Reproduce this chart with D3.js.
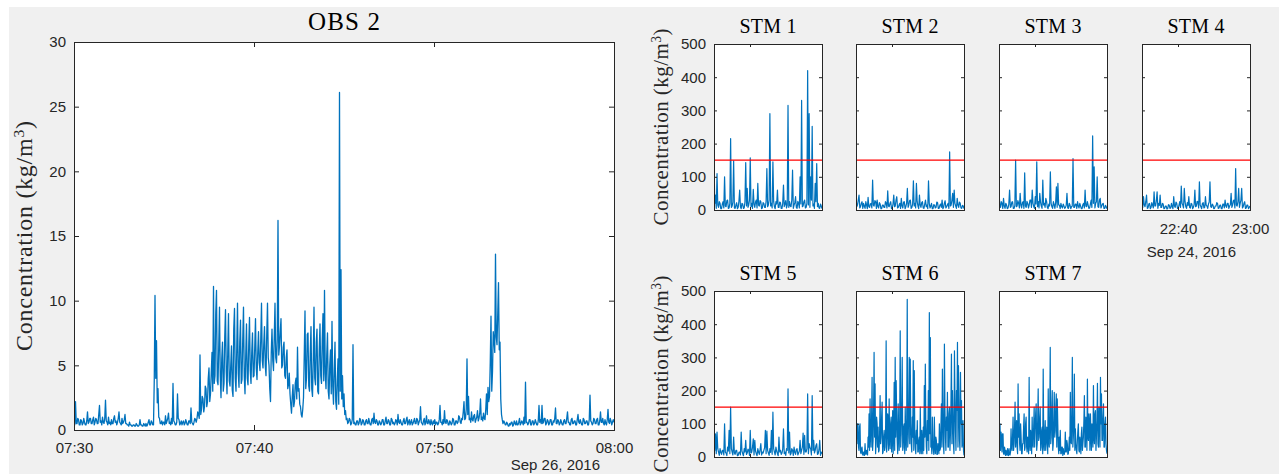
<!DOCTYPE html>
<html>
<head>
<meta charset="utf-8">
<script src="https://cdn.jsdelivr.net/npm/d3@7"></script>
<style>
  body { margin: 0; background: #fff; }
  svg { display: block; }
</style>
</head>
<body>
<script>
// ---------- data ----------
// OBS 2 concentration (kg/m^3), one reading every 2.5 s from 07:30 to 08:00 (one row per minute)
const obsConc = [
  0.6,0.4,2.2,0.5,0.5,0.9,0.8,0.4,0.4,0.8,0.7,0.4,0.5,0.9,0.6,0.4,0.4,0.7,1.4,0.5,0.6,0.9,0.9,0.5,
  0.5,0.8,1.0,0.4,0.6,0.9,0.8,0.5,0.5,1.2,1.9,0.6,0.7,0.4,1.0,0.6,0.5,0.9,2.3,0.7,0.6,0.4,1.0,0.5,
  0.6,0.4,0.8,0.5,0.5,0.9,1.1,0.6,0.7,0.4,0.6,0.9,1.4,0.6,0.5,0.4,0.9,0.5,0.6,0.8,1.2,0.5,0.5,0.4,
  0.4,0.3,0.6,0.4,0.4,0.3,0.3,0.4,0.4,0.3,0.3,0.5,0.4,0.3,0.3,0.4,0.8,0.4,0.4,0.3,0.3,0.5,0.4,0.3,
  0.5,0.3,0.4,0.6,0.8,0.4,0.4,0.7,0.6,0.4,0.4,3.8,10.4,4.0,6.9,2.1,3.2,1.0,0.9,0.5,0.5,0.7,0.4,0.6,
  0.6,0.4,1.1,0.5,0.7,0.9,1.3,0.5,0.6,0.4,0.9,0.5,3.6,0.7,0.6,0.4,0.4,0.6,2.8,0.9,0.8,0.4,0.5,0.7,
  0.4,0.6,0.7,0.4,0.5,0.8,0.6,0.4,0.4,0.7,0.7,0.5,1.7,0.6,0.5,0.4,0.6,0.9,0.8,0.6,0.9,1.4,1.2,0.9,
  5.8,1.2,1.6,2.6,2.4,1.4,1.8,3.4,3.2,1.8,2.2,4.0,4.8,2.2,2.8,4.4,6.0,3.0,11.1,3.6,4.2,9.0,10.8,3.8,
  3.5,6.5,9.5,4.2,2.5,5.5,6.8,3.0,3.6,7.2,9.3,4.5,2.8,6.0,9.0,3.8,3.4,5.0,6.5,3.1,2.6,7.8,9.4,4.0,
  3.0,6.2,9.8,4.4,3.3,6.8,8.5,3.6,3.9,7.0,9.5,4.2,2.8,5.8,8.2,4.0,3.5,6.6,8.7,4.6,3.6,6.0,7.5,4.1,
  4.2,6.4,8.6,4.8,3.9,6.0,7.6,5.2,4.6,7.0,9.8,5.4,4.8,6.6,8.0,5.0,4.2,7.4,9.8,5.6,5.0,3.2,2.2,6.0,
  7.8,5.4,4.6,7.2,9.8,5.6,5.2,7.0,16.2,5.8,6.5,7.6,8.6,4.8,5.0,6.4,6.8,4.2,4.0,5.6,6.2,3.2,3.5,4.4,
  2.8,2.0,1.3,2.6,3.5,1.8,2.2,3.6,4.0,2.4,6.4,3.0,3.2,2.0,1.8,1.2,1.0,1.6,2.5,5.8,9.2,3.2,4.0,7.4,
  7.5,3.4,3.0,6.0,8.0,3.2,2.6,5.4,9.5,4.0,3.5,6.8,7.8,3.0,2.8,6.2,8.2,4.2,3.6,7.0,9.0,3.8,10.8,4.4,
  3.2,5.8,7.5,3.0,2.4,5.0,6.2,2.8,8.4,3.4,2.0,4.6,6.8,2.2,1.6,3.8,5.5,2.0,26.1,3.0,12.4,2.4,4.2,1.8,
  2.8,1.2,1.5,0.8,0.9,0.5,0.6,0.9,0.8,0.4,0.5,0.8,6.6,0.5,0.6,0.4,0.4,0.7,0.7,0.4,0.5,0.9,0.8,0.4,
  0.5,0.8,0.7,0.4,0.4,0.7,0.8,0.5,0.5,0.9,0.6,0.4,0.4,0.8,0.9,0.5,1.3,0.6,0.5,0.8,0.7,0.4,0.4,0.7,
  0.6,0.4,0.5,0.8,0.8,0.4,0.4,0.7,1.0,0.5,0.5,0.8,0.7,0.4,0.4,0.9,0.8,0.5,0.6,0.4,0.5,0.8,0.7,0.4,
  1.2,0.6,0.5,0.8,0.6,0.4,0.4,0.7,0.9,0.5,0.5,0.8,1.0,0.4,0.6,0.8,0.4,0.6,0.8,0.4,0.5,0.7,0.9,0.5,
  0.5,0.9,0.8,0.4,0.6,0.8,1.8,0.6,0.5,0.4,0.7,0.9,0.4,0.6,1.1,0.5,0.5,0.8,0.6,0.4,0.8,0.5,0.4,0.7,
  0.5,0.8,0.4,0.6,0.6,0.4,0.5,0.8,1.9,0.6,0.6,0.4,0.8,0.5,1.5,0.6,0.5,0.8,0.7,0.4,0.4,0.7,0.6,0.4,
  0.5,0.9,0.8,0.4,0.4,0.7,0.7,0.5,0.6,1.1,1.0,0.6,0.5,0.9,0.8,1.4,2.2,0.8,0.9,1.6,5.5,1.2,2.6,0.8,
  0.9,0.6,1.4,0.8,0.7,1.1,1.2,0.6,0.8,1.0,1.5,0.7,0.9,1.3,2.4,0.8,1.0,0.7,1.3,0.9,0.8,1.6,2.8,1.2,
  3.3,2.2,2.6,5.2,8.8,3.0,4.5,7.6,7.0,6.0,13.6,7.2,6.6,9.0,11.4,6.2,6.8,2.4,1.2,0.8,0.5,0.7,0.6,0.4,
  0.4,0.6,0.5,0.3,0.3,0.5,0.4,0.6,0.6,0.3,0.4,0.7,0.5,0.4,0.7,0.4,0.4,0.6,0.9,0.4,0.5,0.7,0.6,0.4,
  1.0,0.5,3.7,0.6,0.6,0.4,0.5,0.8,0.8,0.4,0.4,0.7,0.7,0.4,0.5,0.8,0.6,0.4,0.4,0.7,1.9,0.6,0.8,0.5,
  1.9,0.5,0.6,0.9,0.9,0.4,0.5,0.8,0.7,0.4,0.5,0.8,0.8,0.4,0.4,0.7,0.6,0.9,1.7,0.5,0.5,0.8,0.7,0.4,
  0.5,0.8,0.6,0.4,0.4,0.7,0.8,0.5,0.5,0.9,1.4,0.6,0.6,0.4,0.4,0.8,0.9,0.5,0.5,0.7,0.7,0.4,0.4,0.8,
  1.2,0.6,0.5,0.8,0.6,0.4,0.4,0.9,0.8,0.5,0.5,0.7,0.7,0.4,0.4,0.8,2.7,0.7,0.6,0.4,0.5,0.9,0.8,0.5,
  0.5,0.8,0.9,0.4,0.4,0.7,1.4,0.6,0.6,0.9,0.5,0.4,0.8,0.5,0.4,0.8,1.6,0.6,0.5,0.9,0.7,0.4,0.6,0.8,
  0.6
];
const obsStart = "2016-09-26 07:30";
const obsEnd = "2016-09-26 08:00";
const obsStepSeconds = 2.5;
const obsTimeTicks = ["07:30", "07:40", "07:50", "08:00"];
const obsYTicks = [0, 5, 10, 15, 20, 25, 30];
const obsDateLabel = "Sep 26, 2016";

// STM concentrations (kg/m^3), evenly spaced readings from 22:30 to 23:00
const stm1 = [150,20,45,5,110,15,8,25,20,4,4,18,25,6,100,12,10,28,30,5,6,20,215,8,12,24,148,6,5,15,22,4,8,26,60,10,4,20,18,5,6,25,143,12,65,8,15,30,157,10,20,5,62,18,8,24,30,6,80,15,12,28,25,4,6,22,20,8,8,26,125,10,15,30,290,12,20,6,145,25,10,4,25,18,60,8,8,24,22,5,5,20,75,10,18,28,6,15,315,8,25,12,10,30,120,5,15,22,40,8,5,26,20,6,100,18,330,10,12,25,30,6,8,20,420,15,290,8,100,30,252,12,18,5,80,25,140,10,20,6,5,18,12,4];
const stm2 = [40,10,15,30,45,6,10,20,25,5,20,12,5,25,15,4,38,10,8,18,20,6,90,15,12,28,25,5,30,10,6,22,18,4,4,15,15,8,8,25,20,6,58,12,10,20,25,4,6,18,45,10,12,30,40,6,8,15,20,5,35,12,6,24,25,4,10,20,65,8,15,28,30,5,8,18,88,12,20,6,80,25,12,4,45,15,8,22,25,6,5,18,30,10,15,4,88,20,6,12,20,4,4,16,15,6,8,24,22,5,5,14,18,8,30,4,8,20,28,6,10,15,20,5,175,12,15,30,50,8,60,20,12,5,35,15,8,24,20,6,5,14,12,4];
const stm3 = [60,15,8,25,20,5,35,12,5,20,15,4,6,18,60,8,10,24,25,5,5,14,150,10,12,28,20,6,50,15,6,22,25,5,112,12,8,26,20,6,15,30,30,8,60,20,10,5,40,18,145,10,25,6,50,24,12,5,90,15,20,8,35,26,8,4,18,12,115,20,10,5,25,16,5,22,70,8,80,15,15,4,20,10,6,18,12,5,8,14,50,6,5,20,15,4,10,12,155,8,8,18,18,5,25,12,6,20,12,4,4,16,20,6,60,12,10,25,15,5,6,18,30,8,223,20,130,6,20,25,100,10,8,30,35,6,12,18,20,5,5,14,10,4];
const stm4 = [30,8,40,15,10,25,45,5,6,18,20,4,8,22,15,6,55,12,12,28,55,5,20,14,45,8,8,20,18,4,5,12,12,3,4,16,15,5,6,20,10,4,40,12,8,24,20,5,5,15,25,8,72,20,15,6,65,25,10,5,22,14,40,8,6,20,18,4,8,16,60,10,12,26,25,6,85,15,10,4,20,22,6,8,40,14,12,5,18,24,85,10,8,18,15,4,5,12,12,22,20,5,6,14,15,4,4,18,18,6,30,12,8,20,20,5,12,16,50,8,15,28,30,6,125,15,12,25,65,8,20,30,65,6,10,20,25,5,6,15,15,4,8,12];
const stm5 = [140,20,70,10,75,25,15,5,25,14,8,20,20,6,100,15,12,4,30,18,80,10,150,25,15,6,60,12,8,20,20,4,5,14,15,6,75,18,10,4,25,15,50,8,12,24,20,5,80,12,15,30,55,6,50,18,10,4,25,15,8,22,40,6,15,12,20,28,80,10,78,20,12,5,25,14,80,8,135,25,15,6,30,18,10,4,60,15,20,8,12,24,85,10,15,5,25,20,205,12,75,6,10,25,20,5,30,14,8,22,25,6,12,18,50,10,20,30,72,8,65,15,15,25,190,10,40,28,25,6,185,20,50,12,20,35,40,8,10,22,50,5,15,10];
const stm6 = [145,60,40,100,100,30,20,90,100,15,10,25,30,8,5,15,15,5,40,10,8,20,20,6,60,30,130,20,175,70,30,110,240,20,50,140,315,60,220,10,40,120,100,30,90,15,20,70,185,40,60,120,165,10,15,60,80,20,30,90,350,15,40,130,110,20,175,50,25,100,120,15,60,140,10,80,225,20,300,60,230,120,50,10,160,70,20,110,380,30,70,150,300,20,30,90,100,10,150,60,20,120,475,30,60,140,300,40,295,100,40,15,120,60,290,20,260,80,30,10,80,40,110,15,15,50,60,10,150,30,10,80,40,10,90,20,215,60,280,100,30,10,110,50,200,20,435,70,360,30,40,10,120,40,20,8,120,30,10,60,50,8,8,40,30,10,100,20,25,90,160,30,265,120,40,10,340,150,60,20,120,80,195,30,30,130,150,20,70,160,310,40,200,120,40,10,320,180,80,20,200,140,345,30,275,160,50,20,255,100,170,30,40,110,20,5];
const stm7 = [40,90,100,20,75,60,15,70,70,10,8,30,20,5,20,10,5,25,12,4,25,8,6,15,85,30,20,60,120,20,40,90,165,30,60,110,30,10,220,60,130,40,20,100,60,10,10,40,40,90,130,20,30,100,120,30,15,60,50,10,240,40,20,80,60,10,120,40,30,90,150,30,80,130,160,20,40,110,205,50,60,120,150,20,30,80,90,10,265,40,20,70,110,20,40,90,70,10,205,50,30,120,330,40,60,140,200,20,40,110,195,60,80,150,190,30,175,100,30,10,60,20,80,10,10,30,30,5,25,10,8,20,75,15,15,50,40,8,10,30,60,20,195,50,40,130,300,30,60,100,250,20,85,40,20,10,50,80,100,20,15,60,40,10,70,90,20,40,60,110,185,30,30,120,90,20,235,60,50,130,100,20,130,70,20,100,80,30,215,60,40,130,140,20,60,110,222,40,30,150,120,30,240,100,190,50,50,120,160,30,30,100,120,40,20,10];
const stmSeries = [stm1, stm2, stm3, stm4, stm5, stm6, stm7];
const stmNames = ["STM 1", "STM 2", "STM 3", "STM 4", "STM 5", "STM 6", "STM 7"];
const stmStart = "2016-09-24 22:30";
const stmEnd = "2016-09-24 23:00";
const stmTimeTicks = ["22:40", "23:00"];
const stmYTicks = [0, 100, 200, 300, 400, 500];
const stmDateLabel = "Sep 24, 2016";
const stmThreshold = 150;

// ---------- drawing ----------
const W = 1279, H = 474;
const ink = "#262626", blue = "#0072bd";
const sans = "'Liberation Sans', Arial, Helvetica, sans-serif";
const serif = "'Liberation Serif', 'Times New Roman', serif";

const parseFull = d3.utcParse("%Y-%m-%d %H:%M");
const fmtHM = d3.utcFormat("%H:%M");

const svg = d3.select("body").append("svg")
  .attr("width", W).attr("height", H)
  .attr("viewBox", `0 0 ${W} ${H}`);

svg.append("rect").attr("width", W).attr("height", H).attr("fill", "#ffffff");
svg.append("rect").attr("x", 9).attr("y", 7).attr("width", W - 9).attr("height", H - 7).attr("fill", "#f0f0f0");

let clipCount = 0;

function ylabelText(parent, cx, cy, size, len) {
  const t = parent.append("text")
    .attr("transform", `translate(${cx},${cy}) rotate(-90)`)
    .attr("text-anchor", "middle")
    .attr("font-family", serif)
    .attr("font-size", size)
    .attr("fill", ink)
    .attr("textLength", len)
    .attr("lengthAdjust", "spacing");
  t.append("tspan").text("Concentration (kg/m");
  t.append("tspan").attr("baseline-shift", "super").attr("font-size", "65%").text("3");
  t.append("tspan").text(")");
  return t;
}

function panel(o) {
  const g = svg.append("g").attr("transform", `translate(${o.x},${o.y})`);
  const x = d3.scaleUtc().domain(o.xDomain).range([0, o.w]);
  const y = d3.scaleLinear().domain(o.yDomain).range([o.h, 0]);

  g.append("rect").attr("width", o.w).attr("height", o.h).attr("fill", "#ffffff");

  const id = "clip" + (clipCount++);
  g.append("clipPath").attr("id", id)
    .append("rect").attr("width", o.w).attr("height", o.h);

  const plot = g.append("g").attr("clip-path", `url(#${id})`);
  const t0 = o.xDomain[0].getTime();
  const line = d3.line()
    .x((d, i) => x(new Date(t0 + i * o.step)))
    .y(d => y(d));
  plot.append("path")
    .datum(o.values)
    .attr("d", line)
    .attr("fill", "none")
    .attr("stroke", blue)
    .attr("stroke-width", o.lineWidth)
    .attr("stroke-linejoin", "round");

  if (o.threshold != null) {
    plot.append("line")
      .attr("x1", 0).attr("x2", o.w)
      .attr("y1", y(o.threshold)).attr("y2", y(o.threshold))
      .attr("stroke", "#ff0000").attr("stroke-width", 1.3);
  }

  const tl = o.tickLen;
  const none = () => "";
  const axes = [
    g.append("g").attr("transform", `translate(0,${o.h})`)
      .call(d3.axisBottom(x).tickValues(o.xTicks).tickSize(-tl).tickPadding(o.xPad)
        .tickFormat(o.showX ? fmtHM : none)),
    g.append("g")
      .call(d3.axisTop(x).tickValues(o.xTicks).tickSize(-tl).tickFormat(none)),
    g.append("g")
      .call(d3.axisLeft(y).tickValues(o.yTicks).tickSize(-tl).tickPadding(8)
        .tickFormat(o.showY ? d3.format("d") : none)),
    g.append("g").attr("transform", `translate(${o.w},0)`)
      .call(d3.axisRight(y).tickValues(o.yTicks).tickSize(-tl).tickFormat(none))
  ];
  axes.forEach(a => {
    a.select(".domain").remove();
    a.selectAll(".tick line").attr("stroke", ink);
    a.selectAll(".tick text").attr("fill", ink)
      .attr("font-family", sans).attr("font-size", 15);
  });

  g.append("rect")
    .attr("x", 0.5).attr("y", 0.5).attr("width", o.w).attr("height", o.h)
    .attr("fill", "none").attr("stroke", ink).attr("stroke-width", 1);

  g.append("text")
    .attr("x", o.w / 2).attr("y", -o.titleGap)
    .attr("text-anchor", "middle")
    .attr("font-family", serif).attr("font-size", o.titleSize)
    .attr("fill", "#000")
    .attr("textLength", o.titleLen).attr("lengthAdjust", "spacing")
    .text(o.title);

  if (o.dateLabel) {
    g.append("text")
      .attr("x", o.w - 14).attr("y", o.h + o.dateGap)
      .attr("text-anchor", "end")
      .attr("font-family", sans).attr("font-size", 15)
      .attr("fill", ink)
      .text(o.dateLabel);
  }
  return g;
}

// OBS 2 panel
const obsDate = obsStart.slice(0, 10);
panel({
  x: 74, y: 42, w: 540, h: 388,
  xDomain: [parseFull(obsStart), parseFull(obsEnd)],
  yDomain: [0, 30],
  step: obsStepSeconds * 1000,
  values: obsConc,
  lineWidth: 1.3,
  xTicks: obsTimeTicks.map(s => parseFull(obsDate + " " + s)),
  yTicks: obsYTicks,
  tickLen: 5, xPad: 12,
  showX: true, showY: true,
  title: "OBS 2", titleSize: 25, titleLen: 72, titleGap: 12.5,
  dateLabel: obsDateLabel, dateGap: 40
});
ylabelText(svg, 32, 236, 24, 230);

// STM panels
const stmDate = stmStart.slice(0, 10);
const stmCols = [714, 856, 999, 1142];
const stmRows = [44, 291];
const stmW = 108, stmH = 166;
const stmSpan = parseFull(stmEnd) - parseFull(stmStart);

stmSeries.forEach((vals, k) => {
  const row = Math.floor(k / 4), col = k % 4;
  panel({
    x: stmCols[col], y: stmRows[row], w: stmW, h: stmH,
    xDomain: [parseFull(stmStart), parseFull(stmEnd)],
    yDomain: [0, 500],
    step: stmSpan / (vals.length - 1),
    values: vals,
    lineWidth: 1.2,
    xTicks: stmTimeTicks.map(s => parseFull(stmDate + " " + s)),
    yTicks: stmYTicks,
    tickLen: 3, xPad: 13,
    showX: k === 3, showY: col === 0,
    title: stmNames[k], titleSize: 20, titleLen: 57, titleGap: 11.5,
    threshold: stmThreshold,
    dateLabel: k === 3 ? stmDateLabel : null, dateGap: 47
  });
  if (col === 0) ylabelText(svg, 668, stmRows[row] + stmH / 2, 21, 197);
});
</script>
</body>
</html>
